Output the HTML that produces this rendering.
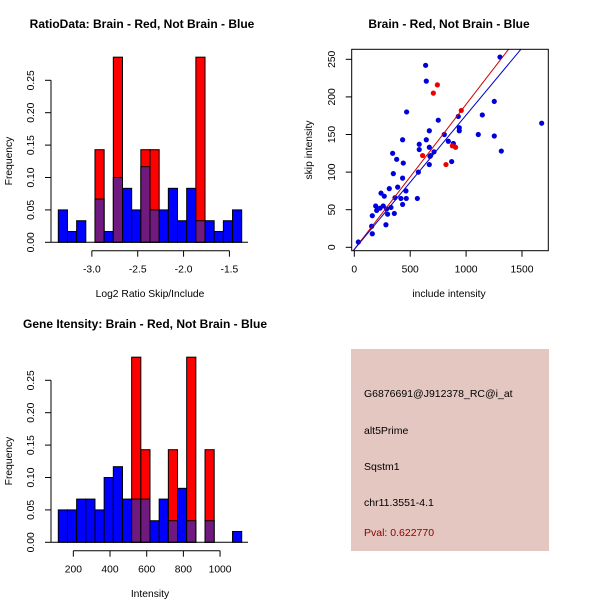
<!DOCTYPE html>
<html><head><meta charset="utf-8"><style>
body{margin:0;background:#fff;}
svg{display:block;font-family:"Liberation Sans",sans-serif;}
</style></head><body>
<svg id="c" width="600" height="600" viewBox="0 0 600 600">
<rect width="600" height="600" fill="#fff"/>
<g id="p1"></g>
<g id="p2"></g>
<g id="p3"></g>
<g>
<rect x="351" y="349" width="198" height="202" fill="#e3c7c0"/>
<text x="364" y="397" font-size="10.5" fill="#000">G6876691@J912378_RC@i_at</text>
<text x="364" y="434" font-size="10.5" fill="#000">alt5Prime</text>
<text x="364" y="470" font-size="10.5" fill="#000">Sqstm1</text>
<text x="364" y="506" font-size="10.5" fill="#000">chr11.3551-4.1</text>
<text x="364" y="536" font-size="10.5" fill="#8b0000">Pval: 0.622770</text>
</g>
</svg>
<script>
// ---- Histogram 1: ratio data ----
const ratioBinStart = -3.366;
const ratioBinWidth = 0.1;
const ratioBlue = [0.05,0.0167,0.0333,0,0.0667,0.0167,0.1,0.0833,0.05,0.1167,0.05,0.05,0.0833,0.0333,0.0833,0.0333,0.0333,0.0167,0.0333,0.05];
const ratioRed = [0,0,0,0,0.1429,0,0.2857,0,0,0.1429,0.1429,0,0,0,0,0.2857,0,0,0,0];
const ratioXTicks = [-3.0,-2.5,-2.0,-1.5];
const ratioXLabels = ["-3.0","-2.5","-2.0","-1.5"];
const freqTicks = [0,0.05,0.10,0.15,0.20,0.25];
const freqLabels = ["0.00","0.05","0.10","0.15","0.20","0.25"];
// ---- Histogram 2: intensity ----
const intBinStart = 118;
const intBinWidth = 50;
const intBlue = [0.05,0.05,0.0667,0.0667,0.05,0.1,0.1167,0.0667,0.0667,0.0667,0.0333,0.0667,0.0333,0.0833,0.0333,0,0.0333,0,0,0.0167];
const intRed = [0,0,0,0,0,0,0,0,0.2857,0.1429,0,0,0.1429,0,0.2857,0,0.1429,0,0,0];
const intXTicks = [200,400,600,800,1000];
const intXLabels = ["200","400","600","800","1000"];
// ---- Scatter ----
const blueInclude = [36,155,161,161,191,200,230,239,268,259,283,298,289,313,328,343,349,358,379,388,364,432,438,432,432,417,462,465,468,564,573,581,581,638,644,644,671,671,677,671,683,713,751,805,841,871,886,930,939,939,1109,1145,1252,1252,1303,1315,1676];
const blueSkip =    [7,28,18,42,55,49,52,72,68,55,30,44,51,78,53,125,98,45,117,80,66,143,112,92,57,65,75,65,180,65,100,137,130,242,221,143,155,133,121,110,122,127,169,150,141,114,138,174,159,155,150,176,194,148,253,128,165];
const redInclude = [611,707,743,820,877,906,957];
const redSkip = [122,205,216,110,135,133,182];
const fitIntercept = [-2.7,-2.8]; // red, blue
const fitSlope = [0.1928,0.1786];
const fitColor = ["#cc0000","#0000cc"];
const scXTicks = [0,500,1000,1500];
const scYTicks = [0,50,100,150,200,250];

const NS="http://www.w3.org/2000/svg";
const FS=10.3;
function mk(parent,tag,attrs,txt){const e=document.createElementNS(NS,tag);for(const k in attrs)e.setAttribute(k,attrs[k]);if(txt!==undefined)e.textContent=txt;parent.appendChild(e);return e;}

function histogram(g,oy,title,xlab,binStart,binW,blue,red,xt,xl,tx){
  const pxPerUnit=9.17/binW;
  const X=v=>58.3+(v-binStart)*pxPerUnit;
  const Y=v=>oy+242.3-(v/0.05)*32.4;
  let t=mk(g,'text',{x:tx,y:oy+28,'font-size':12,'font-weight':'bold','text-anchor':'middle'},title);
  
  
  for(let i=0;i<blue.length;i++){
    const x0=X(binStart+i*binW),w=9.17;
    if(red[i]>0){
      const r=mk(g,'rect',{x:x0,y:Y(red[i]),width:w,height:Y(0)-Y(red[i]),fill:'#ff0000',stroke:'#000','stroke-width':1});
      
      
    }
    if(blue[i]>0){
      const b=mk(g,'rect',{x:x0,y:Y(blue[i]),width:w,height:Y(0)-Y(blue[i]),fill:red[i]>0?'#701a80':'#0000ff',stroke:'#000','stroke-width':1});
      
      
    }
  }
  mk(g,'line',{x1:51,y1:Y(0),x2:248,y2:Y(0),stroke:'#000'});
  const ya=mk(g,'line',{x1:51,y1:Y(0),x2:51,y2:Y(0.25),stroke:'#000'});
  
  
  freqTicks.forEach((v,i)=>{
    mk(g,'line',{x1:45,y1:Y(v),x2:51,y2:Y(v),stroke:'#000'});
    const tl=mk(g,'text',{x:34,y:Y(v),'font-size':FS,'text-anchor':'middle',transform:`rotate(-90 34 ${Y(v)})`},freqLabels[i]);
    
    
  });
  const yt=mk(g,'text',{x:12,y:oy+161,'font-size':FS,'text-anchor':'middle',transform:`rotate(-90 12 ${oy+161})`},'Frequency');
  
  
  const ay=oy+250.7;
  const xa=mk(g,'line',{x1:X(xt[0]),y1:ay,x2:X(xt[xt.length-1]),y2:ay,stroke:'#000'});
  
  
  xt.forEach((v,i)=>{
    mk(g,'line',{x1:X(v),y1:ay,x2:X(v),y2:ay+6,stroke:'#000'});
    const tl=mk(g,'text',{x:X(v),y:ay+22,'font-size':FS,'text-anchor':'middle'},xl[i]);
    
    
  });
  const xtt=mk(g,'text',{x:150,y:oy+297,'font-size':FS,'text-anchor':'middle'},xlab);
  
  
}
histogram(document.getElementById('p1'),0,'RatioData: Brain - Red, Not Brain - Blue','Log2 Ratio Skip/Include',ratioBinStart,ratioBinWidth,ratioBlue,ratioRed,ratioXTicks,ratioXLabels,142);
histogram(document.getElementById('p3'),300,'Gene Itensity: Brain - Red, Not Brain - Blue','Intensity',intBinStart,intBinWidth,intBlue,intRed,intXTicks,intXLabels,145);

(function(){
  const g=document.getElementById('p2');
  const L=351.7,R=548.3,T=49.3,B=250.7;
  const X=v=>354.3+v*(167.7/1500);
  const Y=v=>247.3-v*(188/250);
  const t=mk(g,'text',{x:449,y:28,'font-size':12,'font-weight':'bold','text-anchor':'middle'},'Brain - Red, Not Brain - Blue');
  
  
  mk(g,'clipPath',{id:'sc'}).appendChild(document.createElementNS(NS,'rect'));
  const cr=g.querySelector('#sc rect');cr.setAttribute('x',L);cr.setAttribute('y',T);cr.setAttribute('width',R-L);cr.setAttribute('height',B-T);
  for(let i=0;i<blueInclude.length;i++){
    const c=mk(g,'circle',{cx:X(blueInclude[i]),cy:Y(blueSkip[i]),r:2.6,fill:'#0000dd'});
    
    
  }
  for(let i=0;i<redInclude.length;i++){
    const c=mk(g,'circle',{cx:X(redInclude[i]),cy:Y(redSkip[i]),r:2.6,fill:'#ee0000'});
    
    
  }
  for(let k=0;k<2;k++){
    const x0=-50,x1=2000;
    const l=mk(g,'line',{x1:X(x0),y1:Y(fitIntercept[k]+fitSlope[k]*x0),x2:X(x1),y2:Y(fitIntercept[k]+fitSlope[k]*x1),stroke:fitColor[k],'stroke-width':1,'clip-path':'url(#sc)'});
    
    
  }
  const box=mk(g,'rect',{x:L,y:T,width:R-L,height:B-T,fill:'none',stroke:'#000'});
  
  
  scXTicks.forEach(v=>{
    mk(g,'line',{x1:X(v),y1:B,x2:X(v),y2:B+6,stroke:'#000'});
    const tl=mk(g,'text',{x:X(v),y:B+22,'font-size':FS,'text-anchor':'middle'},String(v));
    
    
  });
  scYTicks.forEach(v=>{
    mk(g,'line',{x1:L-6,y1:Y(v),x2:L,y2:Y(v),stroke:'#000'});
    const tl=mk(g,'text',{x:335,y:Y(v),'font-size':FS,'text-anchor':'middle',transform:`rotate(-90 335 ${Y(v)})`},String(v));
    
    
  });
  const xt=mk(g,'text',{x:449,y:297,'font-size':FS,'text-anchor':'middle'},'include intensity');
  
  
  const yt=mk(g,'text',{x:312,y:150,'font-size':FS,'text-anchor':'middle',transform:'rotate(-90 312 150)'},'skip intensity');
  
  
})();
</script>
</body></html>
